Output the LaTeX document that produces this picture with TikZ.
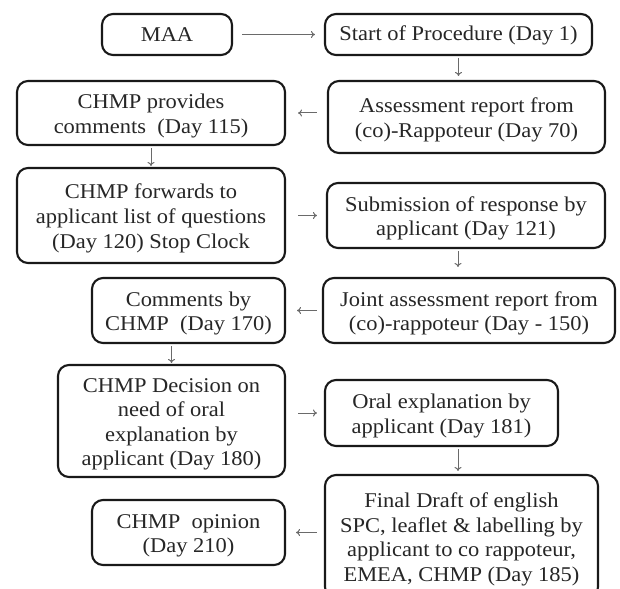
\documentclass[tikz,border=0pt]{standalone}
\usepackage{fontspec}
\setmainfont[FakeStretch=1.07]{Liberation Serif}
\usetikzlibrary{arrows.meta}
\definecolor{boxtext}{HTML}{262626}
\definecolor{arrowgray}{HTML}{6A6A6A}
% extra room above the first line of a multi-line box
\newcommand{\padtop}{\rule{0pt}{20.5pt}}
\begin{document}
\begin{tikzpicture}[x=1pt,y=-1pt,
  stepbox/.style={draw=black!90, line width=2.1pt, rounded corners=11pt,
    align=center, text=boxtext, inner sep=0pt,
    font=\fontsize{21}{24.6}\selectfont},
  flow/.style={draw=arrowgray, line width=1pt, -{To[length=4pt,width=7pt]}}]

% page frame
\fill[white] (0,0) rectangle (620,588);
\useasboundingbox (0,0) rectangle (620,588);

% procedure steps
\node[stepbox, minimum width=130pt, minimum height=41pt] (maa) at (167,34.5) {MAA};
\node[stepbox, minimum width=267pt, minimum height=41pt] (start) at (458.5,34.5) {\rule{0pt}{17.5pt}Start of Procedure (Day 1)};
\node[stepbox, minimum width=268pt, minimum height=64pt] (provides) at (151,113) {\padtop CHMP provides\\comments\ \ (Day 115)};
\node[stepbox, minimum width=277pt, minimum height=72pt] (assess) at (466.5,117) {\padtop Assessment report from\\(co)-Rappoteur (Day 70)};
\node[stepbox, minimum width=268pt, minimum height=95pt] (forwards) at (151,215.5) {\padtop CHMP\ forwards to\\applicant list of questions\\(Day 120) Stop Clock};
\node[stepbox, minimum width=278pt, minimum height=65pt] (submit) at (466,215.5) {\padtop Submission of response by\\applicant (Day 121)};
\node[stepbox, minimum width=193pt, minimum height=65pt] (comments) at (188.5,310.5) {\padtop Comments by\\CHMP\ \ (Day 170)};
\node[stepbox, minimum width=292pt, minimum height=65pt] (joint) at (469,310.5) {\padtop Joint assessment report from\\(co)-rappoteur (Day - 150)};
\node[stepbox, minimum width=227pt, minimum height=112pt] (decision) at (171.5,421) {\padtop CHMP Decision on\\need of oral\\explanation by\\applicant (Day 180)};
\node[stepbox, minimum width=233pt, minimum height=66pt] (oral) at (441.5,413) {\padtop Oral explanation by\\applicant (Day 181)};
\node[stepbox, minimum width=273pt, minimum height=123pt] (final) at (461.5,536.5) {\padtop Final Draft of english\\SPC, leaflet \& labelling by\\applicant to co rappoteur,\\EMEA,\ CHMP (Day 185)};
\node[stepbox, minimum width=193pt, minimum height=65pt] (opinion) at (188.5,532.5) {\padtop CHMP\ \ opinion\\(Day 210)};

% connectors
\draw[flow, shorten <=9pt, shorten >=9pt] (maa.east) -- (start.west);
\draw[flow, shorten <=2pt, shorten >=4pt] (start.south) -- (start.south |- assess.north);
\draw[flow, shorten <=10pt, shorten >=12pt] ([yshift=4pt]assess.west) -- ([yshift=4pt]assess.west -| provides.east);
\draw[flow, shorten <=2pt, shorten >=1pt] (provides.south) -- (provides.south |- forwards.north);
\draw[flow, shorten <=12pt, shorten >=9pt] (forwards.east) -- (forwards.east -| submit.west);
\draw[flow, shorten <=2pt, shorten >=10pt] ([xshift=-8pt]submit.south) -- ([xshift=-8pt]submit.south |- joint.north);
\draw[flow, shorten <=5pt, shorten >=11pt] (joint.west) -- (joint.west -| comments.east);
\draw[flow, shorten <=2pt, shorten >=1pt] (comments.south -| decision.north) -- (decision.north);
\draw[flow, shorten <=12pt, shorten >=7pt] (oral.west -| decision.east) -- (oral.west);
\draw[flow, shorten <=2pt, shorten >=3pt] ([xshift=-3.5pt]final.north |- oral.south) -- ([xshift=-3.5pt]final.north);
\draw[flow, shorten <=7pt, shorten >=10pt] (opinion.east -| final.west) -- (opinion.east);
\end{tikzpicture}
\end{document}
